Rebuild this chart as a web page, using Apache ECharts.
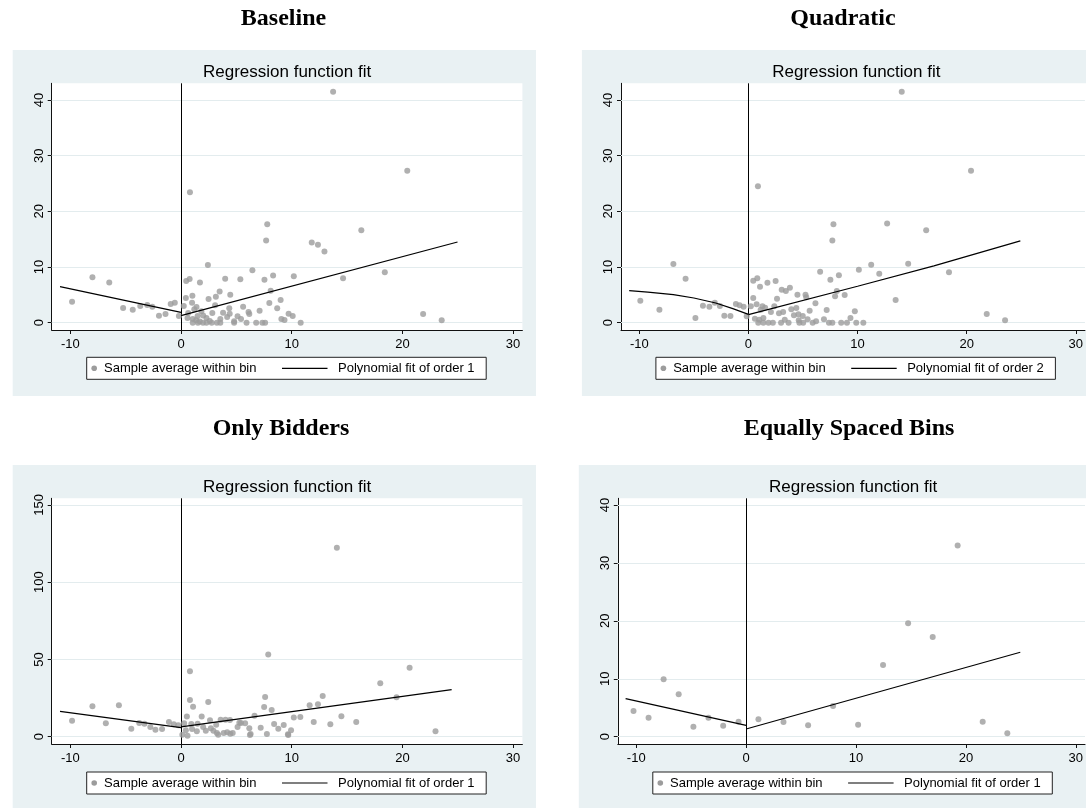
<!DOCTYPE html>
<html><head><meta charset="utf-8">
<script src="https://cdn.jsdelivr.net/npm/echarts@6/dist/echarts.min.js"></script>
<style>html,body{margin:0;padding:0;background:#fff}#c{width:1086px;height:808px}</style>
</head><body><div id="c"></div>
<script>
// ---------------- DATA ----------------
const panelTitles = ['Baseline', 'Quadratic', 'Only Bidders', 'Equally Spaced Bins'];
const plotTitle = 'Regression function fit';
const legendPoints = 'Sample average within bin';
const legendFits = ['Polynomial fit of order 1', 'Polynomial fit of order 2', 'Polynomial fit of order 1', 'Polynomial fit of order 1'];
const xTicks = [-10, 0, 10, 20, 30];
const yTicksSmall = [0, 10, 20, 30, 40];
const yTicksBidders = [0, 50, 100, 150];

const baselineBins = [
  [-9.84,3.78],[-8.0,8.15],[-6.48,7.2],[-5.23,2.64],[-4.36,2.34],[-3.68,3.0],[-3.05,3.18],[-2.59,2.88],
  [-1.99,1.26],[-1.40,1.56],[-0.93,3.36],[-0.56,3.6],[-0.19,1.2],
  [0.81,23.44],[13.74,41.5],[20.44,27.3],[7.79,17.7],[7.69,14.75],[16.29,16.6],[11.81,14.4],[12.37,14.0],
  [12.96,12.8],[2.43,10.37],[6.45,9.4],[18.41,9.05],[10.19,8.33],[8.32,8.5],[7.54,7.7],[5.36,7.8],[3.99,7.9],
  [14.64,7.97],[0.47,7.5],[0.78,7.85],[1.71,7.2],[8.1,5.76],[3.49,5.6],[4.45,5.0],[3.15,4.68],[2.49,4.26],
  [1.03,4.86],[0.44,4.44],[7.98,3.54],[9.0,4.08],[5.61,2.88],[3.08,3.12],[1.0,3.6],[0.25,3.0],[1.4,2.82],
  [4.36,2.58],[8.69,2.58],[7.1,2.16],[6.1,1.92],[6.17,1.56],[2.83,1.74],[1.84,2.04],[0.65,1.74],[9.72,1.62],
  [10.09,1.2],[9.07,0.66],[9.35,0.48],[0.59,0.84],[1.06,0.66],[1.37,0.42],[4.17,1.02],[5.11,1.14],[5.42,0.66],
  [4.8,0.24],[2.3,0.84],[3.55,0.66],[21.87,1.56],[23.55,0.42],[1.2,2.4],[2.0,1.3],[3.8,1.8],[4.4,1.6],
  [1.5,1.2],[2.6,0.3],[1.7,0.2],
  [1.06,0],[1.53,0],[1.99,0],[2.3,0],[2.77,0],[3.24,0],[3.55,0],[4.8,0],[5.92,0],[6.79,0],[7.35,0],[7.6,0],[10.81,0]
];
const baselineFitLeft = [[-10.93,6.47],[0,1.86]];
const baselineFitRight = [[0,1.26],[24.98,14.5]];

const quadraticBins = [
  [-9.91,3.96],[-8.16,2.34],[-6.88,10.55],[-5.76,7.91],[-4.86,0.84],[-4.17,3.06],[-3.58,2.88],[-3.08,3.6],
  [-2.62,3.0],[-2.21,1.26],[-1.65,1.2],[-1.15,3.36],[-0.81,3.12],[-0.44,2.88],[-0.16,1.14],
  [0.87,24.5],[14.05,41.5],[20.4,27.3],[7.79,17.7],[12.71,17.8],[7.69,14.75],[16.29,16.6],[11.25,10.43],
  [14.64,10.6],[10.12,9.53],[11.99,8.81],[18.38,9.05],[6.57,9.17],[8.29,8.51],[7.51,7.73],[0.44,7.55],
  [0.81,7.97],[1.06,6.47],[1.74,7.19],[2.49,7.49],[3.05,5.93],[3.43,5.7],[3.8,6.29],[4.49,5.04],[5.23,5.04],
  [5.3,4.56],[2.62,4.32],[0.44,4.44],[7.94,4.74],[8.1,5.7],[8.82,4.98],[13.49,4.08],[6.14,3.48],[0.22,2.94],
  [0.75,3.3],[1.28,2.94],[1.53,2.7],[2.37,2.94],[3.93,2.4],[4.39,2.64],[5.61,2.16],[7.17,2.28],[9.75,2.04],
  [1.12,2.34],[2.06,1.92],[2.8,1.68],[3.18,1.92],[4.17,1.32],[4.58,1.5],[4.98,1.2],[9.35,0.84],[6.92,0.6],
  [5.42,0.6],[6.2,0.24],[0.59,0.72],[0.99,0.54],[1.37,0.84],[3.33,0.54],[4.61,0.42],[21.84,1.56],[23.52,0.42],
  [0.9,0],[1.37,0],[1.84,0],[2.24,0],[2.99,0],[3.68,0],[4.67,0],[5.02,0],[5.89,0],[7.38,0],[7.69,0],[8.5,0],
  [9.03,0],[9.88,0],[10.53,0]
];
const quadraticFitLeft = [[-10.93,5.76],[-9.22,5.5],[-6.88,5.04],[-5.0,4.44],[-3.0,3.54],[-1.43,2.52],[0,1.5]];
const quadraticFitRight = [[0,1.44],[10,6.55],[17,10.2],[24.92,14.69]];

const biddersBins = [
  [-9.84,10.37],[-8.0,19.67],[-6.79,8.64],[-5.61,20.3],[-4.49,5.19],[-3.77,8.86],[-3.3,8.43],[-2.77,6.27],
  [-2.31,4.54],[-1.71,4.97],[-1.09,9.5],[-0.65,8.0],[-0.25,7.35],
  [14.08,122.3],[7.88,53.2],[0.81,42.4],[20.65,44.7],[18.0,34.6],[7.6,25.7],[12.8,26.4],[19.47,25.5],
  [0.81,23.8],[2.46,22.5],[1.09,19.45],[7.51,19.2],[8.19,17.3],[11.62,20.3],[12.37,21.0],[6.64,13.6],
  [0.53,13.0],[1.87,13.0],[10.19,12.5],[10.78,12.75],[14.49,13.2],[3.58,11.0],[4.02,11.0],[4.42,10.8],
  [2.62,10.6],[11.99,9.5],[15.83,9.5],[5.42,8.86],[5.79,8.64],[8.41,8.2],[9.28,7.56],[13.49,8.0],[0.28,8.64],
  [0.93,8.2],[1.5,8.43],[3.18,7.78],[5.11,6.27],[6.17,5.4],[7.2,5.84],[8.79,5.19],[9.94,4.1],[0.44,4.1],
  [1.0,4.97],[1.43,3.46],[2.24,3.89],[2.93,3.89],[3.24,2.38],[4.17,2.81],[4.67,2.38],[22.99,3.46],[0.12,1.3],
  [0.59,0.65],[3.36,1.3],[4.45,1.95],[6.29,1.73],[7.76,1.73],[9.66,1.51],[3.86,2.38],[5.27,9.06],[9.69,1.1],
  [6.23,1.1],[2.0,6.2],[2.7,5.4]
];
const biddersFitLeft = [[-10.93,16.4],[0,5.9]];
const biddersFitRight = [[0,6.3],[24.45,30.5]];

const equalBins = [
  [-10.25,4.44],[-8.88,3.29],[-7.51,9.91],[-6.14,7.32],[-4.8,1.73],[-3.43,3.29],[-2.09,1.9],[-0.69,2.59],
  [1.12,3.0],[3.4,2.54],[5.64,1.96],[7.91,5.3],[10.19,2.07],[12.46,12.39],[14.74,19.6],[16.98,17.23],
  [19.25,33.0],[21.53,2.59],[23.77,0.58]
];
const equalFitLeft = [[-10.97,6.57],[0,1.96]];
const equalFitRight = [[0,1.33],[24.95,14.58]];

// ---------------- LAYOUT ----------------
const FONT = '"Liberation Sans", Arial, Helvetica, sans-serif';
const SERIF = '"Liberation Serif", "Times New Roman", serif';
const BG = '#E9F1F3';
const GRIDC = '#E3ECEE';
const DOT = '#9C9C9C';

const panels = [
  { bins: baselineBins, fitL: baselineFitLeft, fitR: baselineFitRight, yTicks: yTicksSmall, ymin: -1.31, ymax: 43.0,
    bg: [12.7, 50, 523.3, 346], grid: [51.7, 83.3, 470.7, 246.7], titleXY: [283.5, 18.5], subY: 72, legXY: [86.7, 357.3] },
  { bins: quadraticBins, fitL: quadraticFitLeft, fitR: quadraticFitRight, yTicks: yTicksSmall, ymin: -1.31, ymax: 43.0,
    bg: [581.9, 50, 523.3, 346], grid: [621, 83.3, 470.7, 246.7], titleXY: [843, 18.5], subY: 72, legXY: [655.9, 357.3] },
  { bins: biddersBins, fitL: biddersFitLeft, fitR: biddersFitRight, yTicks: yTicksBidders, ymin: -4.73, ymax: 154.3,
    bg: [12.7, 465, 523.3, 345], grid: [51.7, 498.3, 470.7, 245.7], titleXY: [281, 429], subY: 487.5, legXY: [86.7, 772] },
  { bins: equalBins, fitL: equalFitLeft, fitR: equalFitRight, yTicks: yTicksSmall, ymin: -1.26, ymax: 41.16,
    bg: [578.8, 465, 523.3, 345], grid: [617.8, 498.3, 470.7, 245.7], titleXY: [849, 429], subY: 487.5, legXY: [652.8, 772] }
];

const grids = [], xAxes = [], yAxes = [], series = [], graphics = [];
panels.forEach((p, i) => {
  const [gl, gt, gw, gh] = p.grid;
  grids.push({ left: gl, top: gt, width: gw, height: gh, show: false, containLabel: false });
  xAxes.push({
    gridIndex: i, type: 'value', min: -11.68, max: 30.84,
    axisLine: { show: true, onZero: false, lineStyle: { color: '#111', width: 1 } },
    axisTick: { show: true, length: 4, customValues: xTicks, lineStyle: { color: '#111' } },
    axisLabel: { customValues: xTicks, margin: 8, color: '#000', fontSize: 13, fontFamily: FONT },
    splitLine: { show: false }
  });
  yAxes.push({
    gridIndex: i, type: 'value', min: p.ymin, max: p.ymax,
    axisLine: { show: true, onZero: false, lineStyle: { color: '#111', width: 1 } },
    axisTick: { show: true, length: 4, customValues: p.yTicks, lineStyle: { color: '#111' } },
    axisLabel: { customValues: p.yTicks, rotate: 90, margin: 6, color: '#000', fontSize: 13, fontFamily: FONT },
    splitLine: { show: false }
  });
  // gridlines + xline(0)
  series.push({
    type: 'line', xAxisIndex: i, yAxisIndex: i, data: [], z: 1, silent: true,
    markLine: {
      z: 1, silent: true, symbol: ['none', 'none'], label: { show: false }, animation: false,
      data: p.yTicks.map(v => ({ yAxis: v, lineStyle: { color: GRIDC, width: 1, type: 'solid' } }))
        .concat([{ xAxis: 0, lineStyle: { color: '#000', width: 1, type: 'solid' } }])
    }
  });
  series.push({
    type: 'scatter', xAxisIndex: i, yAxisIndex: i, data: p.bins, symbolSize: 6, z: 3, silent: true,
    itemStyle: { color: DOT }
  });
  [p.fitL, p.fitR].forEach(f => series.push({
    type: 'line', xAxisIndex: i, yAxisIndex: i, data: f, showSymbol: false, symbol: 'none', z: 4, silent: true,
    lineStyle: { color: '#000', width: 1.2 }
  }));

  // graphics: backgrounds, titles, legend
  const [bx, by, bw, bh] = p.bg;
  graphics.push({ type: 'rect', z: -20, shape: { x: bx, y: by, width: bw, height: bh }, style: { fill: BG } });
  graphics.push({ type: 'rect', z: -19, shape: { x: gl, y: gt, width: gw, height: gh }, style: { fill: '#fff' } });
  graphics.push({ type: 'text', z: 10, x: p.titleXY[0], y: p.titleXY[1],
    style: { text: panelTitles[i], font: 'bold 24px ' + SERIF, fill: '#000', textAlign: 'center', textVerticalAlign: 'middle' } });
  graphics.push({ type: 'text', z: 10, x: gl + gw / 2, y: p.subY,
    style: { text: plotTitle, font: '17px ' + FONT, fill: '#000', textAlign: 'center', textVerticalAlign: 'middle' } });
  const [lx, ly] = p.legXY;
  graphics.push({ type: 'rect', z: 10, shape: { x: lx, y: ly, width: 399.5, height: 22 }, style: { fill: '#fff', stroke: '#222', lineWidth: 1 } });
  graphics.push({ type: 'circle', z: 11, shape: { cx: lx + 7.5, cy: ly + 11, r: 2.8 }, style: { fill: DOT } });
  graphics.push({ type: 'text', z: 11, x: lx + 17.3, y: ly + 11,
    style: { text: legendPoints, font: '13px ' + FONT, fill: '#000', textAlign: 'left', textVerticalAlign: 'middle' } });
  graphics.push({ type: 'line', z: 11, shape: { x1: lx + 195.3, y1: ly + 11, x2: lx + 240.8, y2: ly + 11 }, style: { stroke: '#000', lineWidth: 1.2 } });
  graphics.push({ type: 'text', z: 11, x: lx + 251.3, y: ly + 11,
    style: { text: legendFits[i], font: '13px ' + FONT, fill: '#000', textAlign: 'left', textVerticalAlign: 'middle' } });
});

const chart = echarts.init(document.getElementById('c'), null, { renderer: 'canvas' });
chart.setOption({
  backgroundColor: '#fff',
  animation: false,
  grid: grids, xAxis: xAxes, yAxis: yAxes, series: series,
  graphic: { elements: graphics }
});
</script>
</body></html>
